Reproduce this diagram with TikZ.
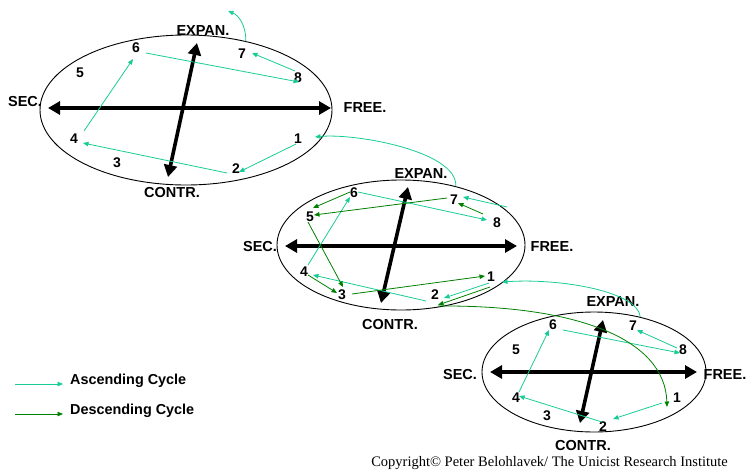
\documentclass[tikz,border=0pt]{standalone}
\usepackage{fontspec}
\setmainfont{Liberation Serif}
\setsansfont{Liberation Sans}
\usetikzlibrary{arrows.meta,calc,shapes.geometric}
\definecolor{asccol}{RGB}{24,204,150}
\definecolor{desccol}{RGB}{0,128,0}
\tikzset{
  x=1pt, y=-1pt,
  cyc/.style={draw=black, line width=0.9pt, ellipse, inner sep=0pt},
  axis/.style={line width=3.6pt, {Triangle[length=12pt,width=13pt]}-{Triangle[length=12pt,width=13pt]}},
  lbl/.style={font=\sffamily\bfseries\fontsize{14.5}{14.5}\selectfont, inner sep=1pt},
  num/.style={font=\sffamily\bfseries\fontsize{14}{14}\selectfont, inner sep=1pt},
  asc/.style={draw=asccol, line width=0.8pt, -{Triangle[length=5.5pt,width=4.5pt]}},
  desc/.style={draw=desccol, line width=0.8pt, -{Triangle[length=5.5pt,width=4.5pt]}},
  legtext/.style={font=\sffamily\bfseries\fontsize{14.4}{14.4}\selectfont, anchor=west, inner sep=0pt},
}
\begin{document}
\begin{tikzpicture}
\useasboundingbox (0,0) rectangle (746,471);
% ---------- cycle 1 ----------
\node[cyc, minimum width=292pt, minimum height=150pt] (e1) at (186,110) {};
\draw[axis] ($(e1)+(-138,-2)$) -- ($(e1)+(145,-2)$);
\draw[axis] ($(e1)+(11,-67)$) -- ($(e1)+(-18,67)$);
\node[lbl] (e1exp) at (203,31) {EXPAN.};
\node[lbl] (e1sec) at (25,102) {SEC.};
\node[lbl] (e1free) at (365,108) {FREE.};
\node[lbl] (e1con) at (172,193) {CONTR.};
\node[num] (a1) at (298,139) {1};
\node[num] (a2) at (236,169) {2};
\node[num] (a3) at (117,163) {3};
\node[num] (a4) at (74,139) {4};
\node[num] (a5) at (80,73) {5};
\node[num] (a6) at (136,48) {6};
\node[num] (a7) at (242,54) {7};
\node[num] (a8) at (298,78) {8};
\draw[asc] ($(a1)+(-2,5)$) -- ($(a2)+(3,3)$);
\draw[asc] ($(a2)+(-9,4)$) -- ($(a4)+(9,4)$);
\draw[asc] ($(a4)+(10,-8)$) -- ($(a6)+(-3,11)$);
\draw[asc] ($(a6)+(10,5)$) -- ($(a8)+(1,4)$);
\draw[asc] ($(a8)+(-3,-7)$) -- ($(a7)+(10,-1)$);
\coordinate (up1) at (228,11);
\draw[asc] (e1.49.5) .. controls +(0,-17) and +(10,4) .. (up1);
% ---------- cycle 2 ----------
\node[cyc, minimum width=248pt, minimum height=130pt] (e2) at (401,245) {};
\draw[axis] ($(e2)+(-116,1)$) -- ($(e2)+(116,1)$);
\draw[axis] ($(e2)+(7,-58)$) -- ($(e2)+(-20,58)$);
\node[lbl] (e2exp) at (421,174) {EXPAN.};
\node[lbl] (e2sec) at (260,247) {SEC.};
\node[lbl] (e2free) at (552,247) {FREE.};
\node[lbl] (e2con) at (390,325) {CONTR.};
\node[num] (b1) at (491,277) {1};
\node[num] (b2) at (435,295) {2};
\node[num] (b3) at (342,295) {3};
\node[num] (b4) at (304,272) {4};
\node[num] (b5) at (310,217) {5};
\node[num] (b6) at (354,193) {6};
\node[num] (b7) at (454,200) {7};
\node[num] (b8) at (497,223) {8};
\draw[asc] ($(b1)+(-2,6)$) -- ($(b2)+(9,3)$);
\draw[asc] ($(b2)+(-9,6)$) -- ($(b4)+(9,3)$);
\draw[asc] ($(b4)+(4,-7)$) -- ($(b6)+(-4,4)$);
\draw[asc] ($(b6)+(4,-1)$) -- ($(b8)+(-10,-3)$);
\draw[asc] ($(b8)+(10,-16)$) -- ($(b7)+(9,-3)$);
\draw[desc] ($(b8)+(-14,-9)$) -- ($(b7)+(4,3)$);
\draw[desc] ($(b7)+(-7,-2)$) -- ($(b5)+(4,-2)$);
\draw[desc] ($(b6)+(-4,-1)$) -- ($(b5)+(3,-9)$);
\draw[desc] ($(b5)+(-2,5)$) -- ($(b3)+(1,-8)$);
\draw[desc] ($(b4)+(4,3)$) -- ($(b3)+(-5,-2)$);
\draw[desc] ($(b3)+(10,-1)$) -- ($(b1)+(-6,-1)$);
\draw[desc] ($(b1)+(-1,10)$) -- ($(b2)+(3,10)$);
\draw[asc] (e2.47) .. controls +(2,-35) and +(40,-4) .. ($(a1)+(17,-2)$);
% ---------- cycle 3 ----------
\node[cyc, minimum width=224pt, minimum height=120pt] (e3) at (594,372) {};
\draw[axis] ($(e3)+(-104,0)$) -- ($(e3)+(103,0)$);
\draw[axis] ($(e3)+(9,-52)$) -- ($(e3)+(-14,51)$);
\node[lbl] (e3exp) at (613,302) {EXPAN.};
\node[lbl] (e3sec) at (460,375) {SEC.};
\node[lbl] (e3free) at (725,375) {FREE.};
\node[lbl] (e3con) at (583,446) {CONTR.};
\node[num] (c1) at (677,398) {1};
\node[num] (c2) at (603,427) {2};
\node[num] (c3) at (547,416) {3};
\node[num] (c4) at (516,398) {4};
\node[num] (c5) at (516,350) {5};
\node[num] (c6) at (553,325) {6};
\node[num] (c7) at (633,326) {7};
\node[num] (c8) at (683,350) {8};
\draw[asc] ($(c1)+(-15,5)$) -- ($(c2)+(10,-8)$);
\draw[asc] ($(c2)+(-1,-5)$) -- ($(c4)+(3,-2)$);
\draw[asc] ($(c4)+(3,-6)$) -- ($(c6)+(-4,5)$);
\draw[asc] ($(c6)+(10,5)$) -- ($(c8)+(-3,3)$);
\draw[asc] ($(c8)+(-6,-2)$) -- ($(c7)+(4,4)$);
\draw[asc] (e3.50.8) .. controls +(-2,-25) and +(60,-4) .. ($(b1)+(11,5)$);
\draw[desc] ($(b2)+(3,11)$) .. controls +(142,-1) and +(-2,-67) .. ($(c1)+(-10,9)$);
% ---------- legend ----------
\coordinate (la1) at (15,384);
\coordinate (la2) at (63,384);
\coordinate (ld1) at (15,414);
\coordinate (ld2) at (63,414);
\draw[asc] (la1) -- (la2);
\draw[desc] (ld1) -- (ld2);
\node[legtext] (lasc) at (70,381) {Ascending Cycle};
\node[legtext] (ldesc) at (70,411) {Descending Cycle};
\node[font=\fontsize{14.5}{14.5}\selectfont, anchor=east, inner sep=0pt] (copy) at (728,463) {Copyright© Peter Belohlavek/ The Unicist Research Institute};
\end{tikzpicture}
\end{document}
